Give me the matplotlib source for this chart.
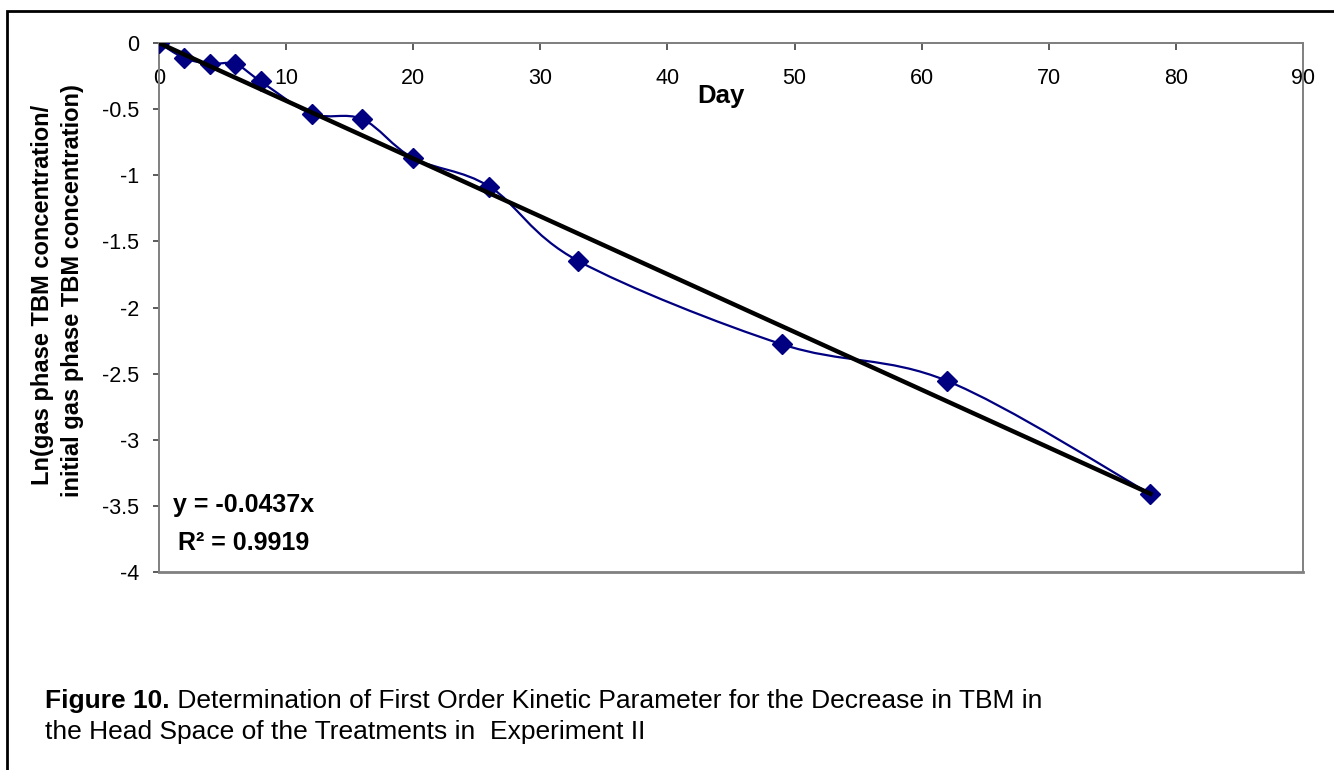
import matplotlib
matplotlib.use('Agg')
import matplotlib.pyplot as plt
from matplotlib.path import Path
from matplotlib.patches import PathPatch, Rectangle
import numpy as np

plt.rcParams['font.family'] = ['Liberation Sans', 'DejaVu Sans']

# Measured data (day, ln(C/C0))
days = [0, 2, 4, 6, 8, 12, 16, 20, 26, 33, 49, 62, 78]
ln_ratio = [0, -0.114, -0.157, -0.159, -0.29, -0.535, -0.576, -0.871, -1.086,
            -1.649, -2.278, -2.555, -3.41]

# Linear fit through origin
slope = -0.0437
fit_x = [0, 78]

x_ticks = [0, 10, 20, 30, 40, 50, 60, 70, 80, 90]
x_labels = ['0', '10', '20', '30', '40', '50', '60', '70', '80', '90']
y_ticks = [0, -0.5, -1, -1.5, -2, -2.5, -3, -3.5, -4]
y_labels = ['0', '-0.5', '-1', '-1.5', '-2', '-2.5', '-3', '-3.5', '-4']

eq_text = 'y = -0.0437x'
r2_text = 'R\u00b2 = 0.9919'
ylabel_1 = 'Ln(gas phase TBM concentration/'
ylabel_2 = 'initial gas phase TBM concentration)'
caption_bold = 'Figure 10.'
caption_1 = ' Determination of First Order Kinetic Parameter for the Decrease in TBM in'
caption_2 = 'the Head Space of the Treatments in  Experiment II'


def smooth_path(xs, ys):
    """Excel-style smoothed line as cubic Bezier segments."""
    pts = np.column_stack([xs, ys]).astype(float)
    n = len(pts)
    verts = [pts[0]]
    codes = [Path.MOVETO]
    for i in range(n - 1):
        p0 = pts[max(i - 1, 0)]
        p1 = pts[i]
        p2 = pts[i + 1]
        p3 = pts[min(i + 2, n - 1)]
        c1 = p1 + (p2 - p0) / 6.0
        c2 = p2 - (p3 - p1) / 6.0
        verts += [c1, c2, p2]
        codes += [Path.CURVE4] * 3
    return Path(verts, codes)


W, H = 1334, 770
fig = plt.figure(figsize=(W / 100, H / 100), dpi=100)
ax = fig.add_axes([159 / W, 1 - 572 / H, (1303 - 159) / W, (572 - 43) / H])

border = '#808080'

# smoothed data line + markers
ax.add_patch(PathPatch(smooth_path(days, ln_ratio), facecolor='none',
                       edgecolor='#000080', lw=1.6, zorder=3))
ax.plot(days, ln_ratio, linestyle='none', marker='D', ms=10,
        color='#000080', zorder=4)

# trend line
ax.plot(fit_x, [slope * v for v in fit_x], color='black', lw=3.2, zorder=5)

ax.set_xlim(0, 90)
ax.set_ylim(-4, 0)

ax.spines['bottom'].set_position(('data', 0))
for s in ['bottom', 'left', 'right', 'top']:
    ax.spines[s].set_color(border)
    ax.spines[s].set_linewidth(1.4)
ax.axhline(-4, color=border, lw=2.0, clip_on=False)

ax.set_xticks(x_ticks)
ax.set_xticklabels(x_labels)
ax.set_yticks(y_ticks)
ax.set_yticklabels(y_labels)
ax.tick_params(axis='x', direction='out', length=5, width=1.2, color='#404040',
               pad=13, labelsize=15.5)
ax.tick_params(axis='y', direction='out', length=4.5, width=1.2, color='#404040',
               pad=10, labelsize=15.5)

fig.text(721 / W, 1 - 103 / H, 'Day', fontsize=18.5, fontweight='bold',
         ha='center', va='baseline')
fig.text(43 / W, 1 - 295 / H, ylabel_1, rotation=90, fontsize=17,
         fontweight='bold', ha='center', va='center')
fig.text(73 / W, 1 - 291 / H, ylabel_2, rotation=90, fontsize=17,
         fontweight='bold', ha='center', va='center')

fig.text(173 / W, 1 - 512 / H, eq_text, fontsize=18, fontweight='bold',
         ha='left', va='baseline')
fig.text(178 / W, 1 - 550 / H, r2_text, fontsize=18, fontweight='bold',
         ha='left', va='baseline')

t = fig.text(45 / W, 1 - 708 / H, caption_bold, fontsize=19,
             fontweight='bold', ha='left', va='baseline')
ax.annotate(caption_1, xy=(1, 0), xycoords=t, fontsize=19, ha='left',
            va='bottom', annotation_clip=False)
fig.text(45 / W, 1 - 739 / H, caption_2, fontsize=19, ha='left',
         va='baseline')

# outer frame
fig.add_artist(Rectangle((7 / W, -0.1), 1.2, 1 - 11 / H + 0.1,
                         transform=fig.transFigure, fill=False,
                         edgecolor='black', lw=2))

fig.savefig('out.png', dpi=100)
